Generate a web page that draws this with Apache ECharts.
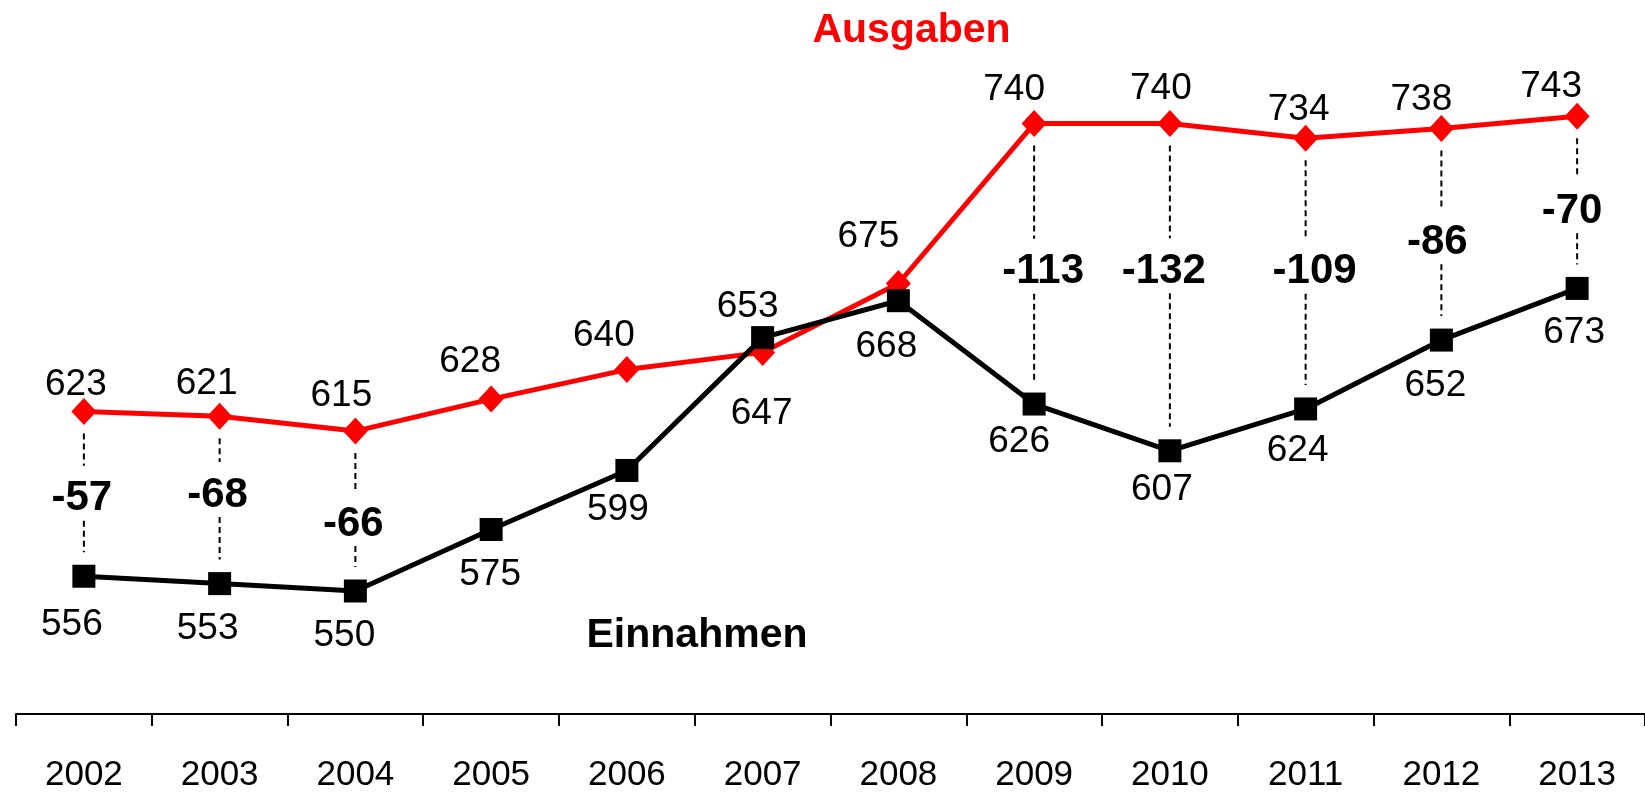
<!DOCTYPE html>
<html>
<head>
<meta charset="utf-8">
<script src="https://cdn.jsdelivr.net/npm/echarts@6/dist/echarts.min.js"></script>
<style>
  html, body { margin: 0; padding: 0; background: #fff; }
  #chart { width: 1645px; height: 793px; }
</style>
</head>
<body>
<div id="chart"></div>
<script>
// ---- data ----
const years = ['2002','2003','2004','2005','2006','2007','2008','2009','2010','2011','2012','2013'];
const ausgaben = [623, 621, 615, 628, 640, 647, 675, 740, 740, 734, 738, 743];
const einnahmen = [556, 553, 550, 575, 599, 653, 668, 626, 607, 624, 652, 673];
const saldo = [-57, -68, -66, null, null, null, null, -113, -132, -109, -86, -70];

// ---- label placement (pixels relative to the marker) ----
const ausLabelShift = [[-8,-27],[-13,-33],[-14,-35],[-21,-37],[-23,-34],[-1,61],[-30,-47],[-20,-34],[-9,-35],[-7,-29],[-20,-29],[-26,-29]];
const einLabelShift = [[-12,49],[-12,45],[-11,45],[-1,45],[-9,39],[-15,-31],[-12,46],[-15,38],[-8,39],[-8,42],[-6,46],[-3,44]];
const saldoShift = [[-2,5],[-2,-5],[-2,13],null,null,null,null,[9,8],[-6,-16],[9,-2],[-4,8],[-5,9]];

const SANS = '"Liberation Sans", Arial, sans-serif';

const chart = echarts.init(document.getElementById('chart'), null, { renderer: 'canvas' });

const saldoData = [];
saldo.forEach((d, i) => { if (d !== null) saldoData.push([i, ausgaben[i], einnahmen[i], d]); });

function renderSaldo(params, api) {
  const i = api.value(0);
  const pA = api.coord([i, api.value(1)]);
  const pE = api.coord([i, api.value(2)]);
  const sh = saldoShift[i];
  const x = pA[0];
  const ly = (pA[1] + pE[1]) / 2 + sh[1];
  const dash = { stroke: '#000', lineWidth: 2, lineDash: [6, 4] };
  return {
    type: 'group',
    children: [
      { type: 'line', shape: { x1: x, y1: pA[1] + 22, x2: x, y2: ly - 33 }, style: dash },
      { type: 'line', shape: { x1: x, y1: ly + 22, x2: x, y2: pE[1] - 24 }, style: dash },
      { type: 'text', x: x + sh[0], y: ly,
        style: { text: String(api.value(3)), fill: '#000', fontSize: 42, fontWeight: 'bold',
                 fontFamily: SANS, align: 'center', verticalAlign: 'middle' } }
    ]
  };
}

const option = {
  animation: false,
  backgroundColor: '#ffffff',
  grid: { left: 16, top: 99, width: 1636.8, height: 622.5, containLabel: false },
  xAxis: {
    type: 'category',
    data: years,
    boundaryGap: true,
    axisLine: { show: true, lineStyle: { color: '#000', width: 2 } },
    axisTick: { show: true, length: 12, lineStyle: { color: '#000', width: 2 } },
    axisLabel: { color: '#000', fontSize: 35, fontFamily: SANS, margin: 44, lineHeight: 35 },
    splitLine: { show: false }
  },
  yAxis: { type: 'value', min: 500, max: 750, show: false, splitLine: { show: false } },
  graphic: [
    { type: 'text', x: 911.5, y: 31,
      style: { text: 'Ausgaben', fill: '#ff0000', fontSize: 41, fontWeight: 'bold', fontFamily: SANS,
               align: 'center', verticalAlign: 'middle' } },
    { type: 'text', x: 697, y: 636,
      style: { text: 'Einnahmen', fill: '#000000', fontSize: 41, fontWeight: 'bold', fontFamily: SANS,
               align: 'center', verticalAlign: 'middle' } }
  ],
  series: [
    {
      type: 'custom',
      coordinateSystem: 'cartesian2d',
      renderItem: renderSaldo,
      data: saldoData,
      z: 1,
      silent: true
    },
    {
      name: 'Ausgaben',
      type: 'line',
      data: ausgaben.map((v, i) => ({ value: v, label: { offset: ausLabelShift[i] } })),
      symbol: 'diamond',
      symbolSize: [25, 27],
      lineStyle: { color: '#ff0000', width: 5 },
      itemStyle: { color: '#ff0000' },
      label: { show: true, position: 'inside', color: '#000', fontSize: 37, fontFamily: SANS },
      z: 2
    },
    {
      name: 'Einnahmen',
      type: 'line',
      data: einnahmen.map((v, i) => ({ value: v, label: { offset: einLabelShift[i] } })),
      symbol: 'rect',
      symbolSize: 23,
      lineStyle: { color: '#000000', width: 5 },
      itemStyle: { color: '#000000' },
      label: { show: true, position: 'inside', color: '#000', fontSize: 37, fontFamily: SANS },
      z: 3
    }
  ]
};

chart.setOption(option);
</script>
</body>
</html>
